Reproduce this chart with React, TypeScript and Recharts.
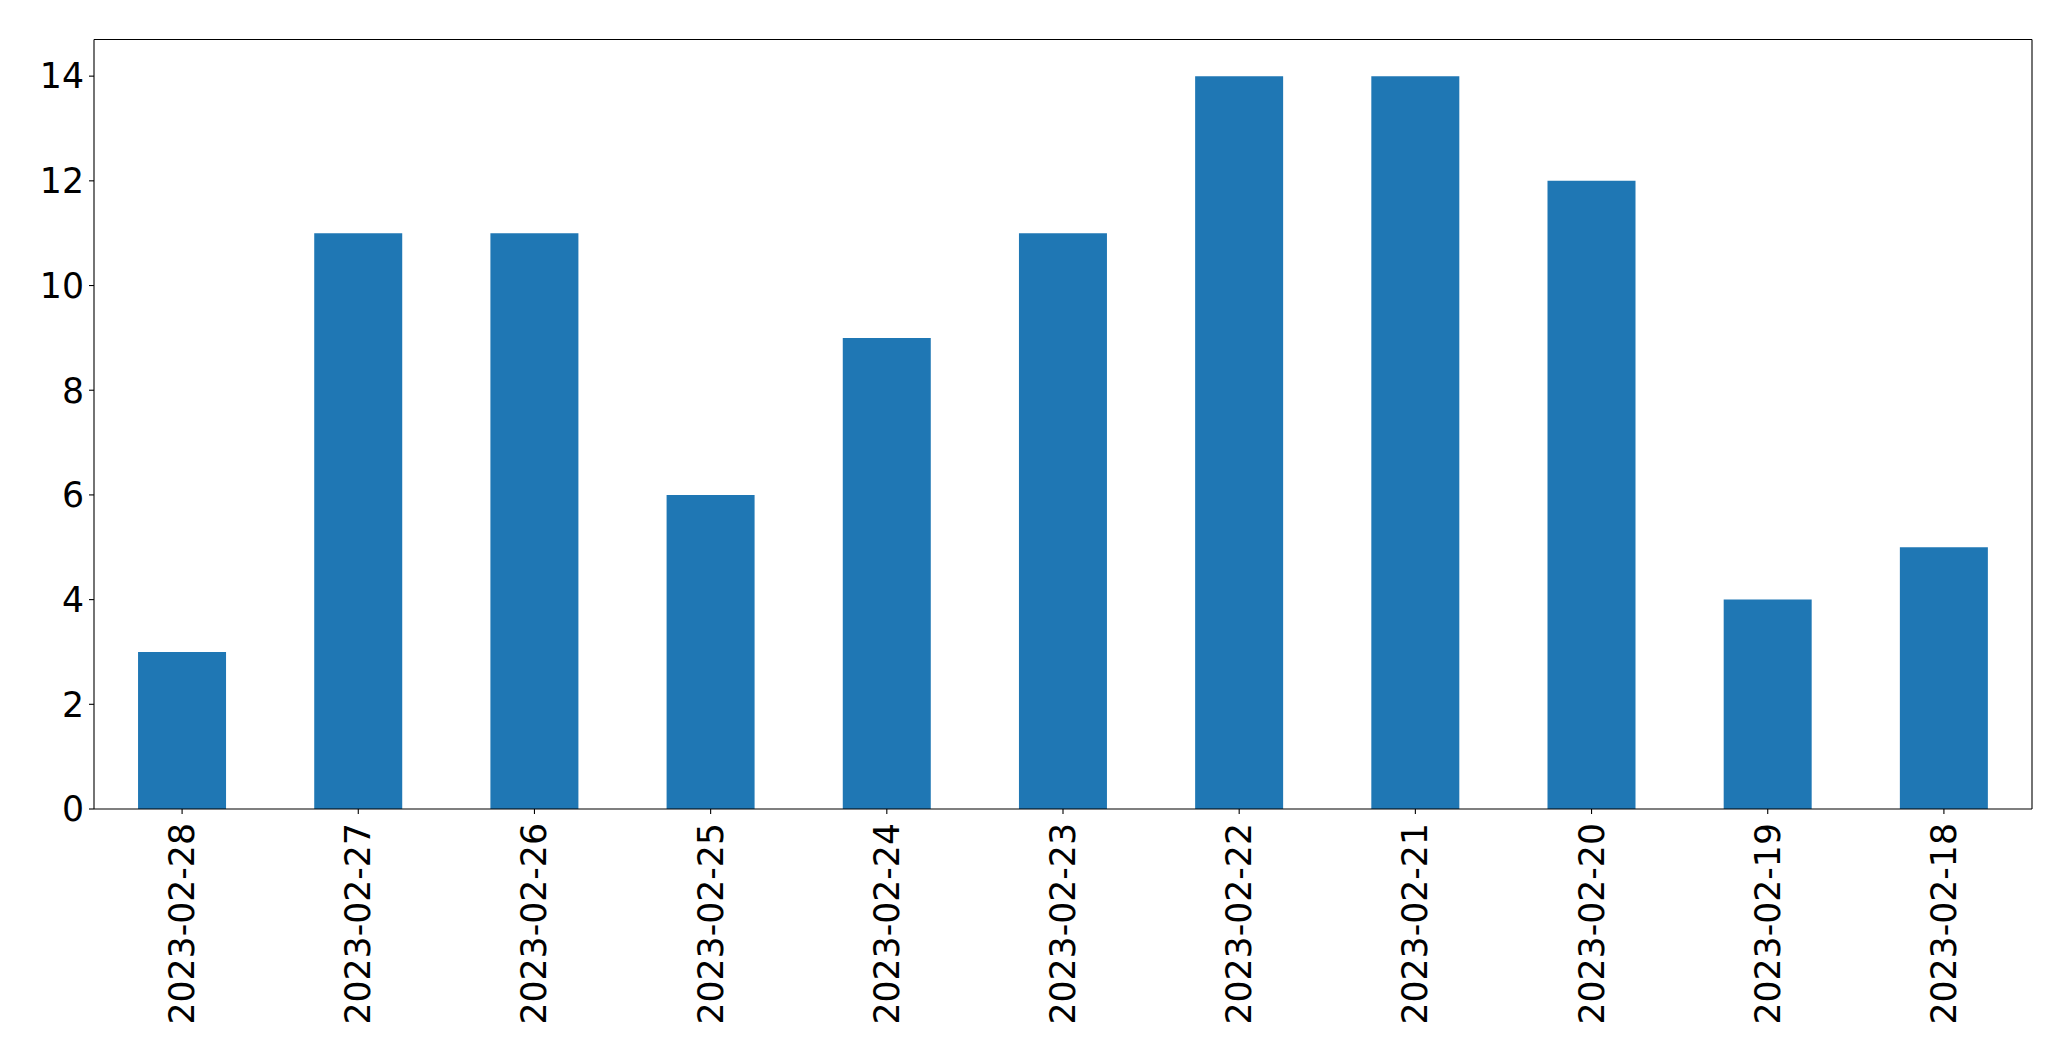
import React from "react";
import { BarChart, Bar, XAxis, YAxis } from "recharts";

const categories = [
  "2023-02-28", "2023-02-27", "2023-02-26", "2023-02-25", "2023-02-24", "2023-02-23",
  "2023-02-22", "2023-02-21", "2023-02-20", "2023-02-19", "2023-02-18",
];
const counts = [3, 11, 11, 6, 9, 11, 14, 14, 12, 4, 5];
const yTicks = [0, 2, 4, 6, 8, 10, 12, 14];

const data = categories.map((c, i) => ({ date: c, count: counts[i] }));

const FONT = "'DejaVu Sans', sans-serif";
const FS = 34.7;

const XTick = (props: any) => {
  const { x, y, payload } = props;
  return (
    <text
      x={0}
      y={0}
      transform={`translate(${x},${y + 7}) rotate(-90)`}
      textAnchor="end"
      dominantBaseline="central"
      fontSize={FS}
      fontFamily={FONT}
      fill="#000"
    >
      {payload.value}
    </text>
  );
};

export default function App() {
  return (
    <div style={{ position: "absolute", left: 0, top: 0, background: "#fff" }}>
      <BarChart
        width={2071}
        height={1061}
        data={data}
        margin={{ top: 38.5, right: 38, left: 0, bottom: 0 }}
        barCategoryGap="25%"
      >
        <XAxis
          dataKey="date"
          height={252}
          interval={0}
          tick={<XTick />}
          tickSize={5}
          stroke="#000"
          strokeWidth={1.1}
          tickLine={{ stroke: "#000", strokeWidth: 1.1 }}
          axisLine={{ stroke: "#000", strokeWidth: 1.1 }}
        />
        <XAxis
          xAxisId="top"
          orientation="top"
          dataKey="date"
          height={1}
          tick={false}
          tickLine={false}
          stroke="#000"
          strokeWidth={1.1}
          axisLine={{ stroke: "#000", strokeWidth: 1.1 }}
        />
        <YAxis
          type="number"
          domain={[0, 14.7]}
          ticks={yTicks}
          width={94}
          tickSize={5}
          tickMargin={5}
          interval={0}
          stroke="#000"
          strokeWidth={1.1}
          tick={{ fontSize: FS, fontFamily: FONT, fill: "#000" }}
          tickLine={{ stroke: "#000", strokeWidth: 1.1 }}
          axisLine={{ stroke: "#000", strokeWidth: 1.1 }}
        />
        <YAxis
          yAxisId="right"
          orientation="right"
          type="number"
          domain={[0, 14.7]}
          width={1}
          tick={false}
          tickLine={false}
          stroke="#000"
          strokeWidth={1.1}
          axisLine={{ stroke: "#000", strokeWidth: 1.1 }}
        />
        <Bar dataKey="count" fill="#1f77b4" isAnimationActive={false} />
      </BarChart>
    </div>
  );
}
